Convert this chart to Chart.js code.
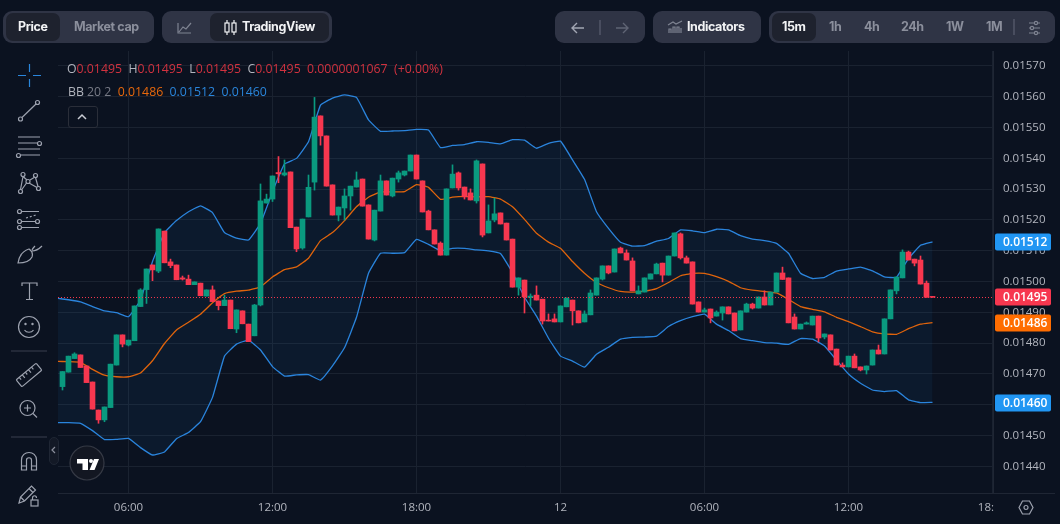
<!DOCTYPE html>
<html>
<head>
<meta charset="utf-8">
<title>Price chart</title>
<script src="https://cdn.jsdelivr.net/npm/chart.js@4"></script>
<style>
  html, body { margin: 0; padding: 0; background: #0b1220; width: 1060px; height: 524px; overflow: hidden; }
  canvas { position: absolute; left: 0; top: 0; }
  .box { position: absolute; top: 11px; height: 32px; background: #2f3445; border-radius: 9px; }
  .on { position: absolute; top: 13px; height: 28px; background: #1e222e; border-radius: 7px; }
  .tab { position: absolute; top: 11px; font: 700 12.5px/32px Inter, sans-serif; color: #8b8f9c; white-space: nowrap; letter-spacing: -0.4px; }
  .tab.w { color: #f2f3f5; }
  #legend { position: absolute; left: 67px; top: 60px; font: 12.3px/18px "Open Sans", sans-serif; color: #d1323f; white-space: pre; }
  #bb { position: absolute; left: 68px; top: 83px; font: 12.3px/18px "Open Sans", sans-serif; white-space: pre; }
  .g { color: #b2b5be; }
  #collapse { position: absolute; left: 68px; top: 106px; width: 28px; height: 20px; border: 1px solid #2a2e39; border-radius: 3px; }
  #corner { position: absolute; left: 994px; top: 494px; width: 66px; height: 30px; background: #0b1220; }
  #axisEnd { position: absolute; left: 993px; top: 493px; width: 62px; height: 1px; background: #1f2634; }
  #handle { position: absolute; left: 49px; top: 437px; width: 8px; height: 26px; border: 1px solid #1f2634; border-radius: 5px; background: #131926; }
  svg { position: absolute; left: 0; top: 0; }
</style>
</head>
<body>
<canvas id="chart" width="1060" height="524"></canvas>

<div class="box" style="left:3px;width:151px"></div>
<div class="on" style="left:6px;width:54px"></div>
<div class="tab w" style="left:18px">Price</div>
<div class="tab" style="left:74px">Market cap</div>
<div class="box" style="left:162px;width:170px"></div>
<div class="on" style="left:210px;width:119px"></div>
<div class="tab w" style="left:242px">TradingView</div>
<div class="box" style="left:555px;width:90px"></div>
<div class="box" style="left:653px;width:108px"></div>
<div class="tab w" style="left:687px">Indicators</div>
<div class="box" style="left:769px;width:286px"></div>
<div class="on" style="left:772px;width:44px"></div>
<div class="tab w" style="left:782px">15m</div>
<div class="tab" style="left:829px">1h</div>
<div class="tab" style="left:864px">4h</div>
<div class="tab" style="left:901px">24h</div>
<div class="tab" style="left:946px">1W</div>
<div class="tab" style="left:986px">1M</div>

<div id="legend"><span class="g">O</span>0.01495  <span class="g">H</span>0.01495  <span class="g">L</span>0.01495  <span class="g">C</span>0.01495  0.0000001067  (+0.00%)</div>
<div id="bb"><span class="g">BB</span> <span style="color:#787b86">20 2</span>  <span style="color:#e8680c">0.01486</span>  <span style="color:#2a86dc">0.01512</span>  <span style="color:#2a86dc">0.01460</span></div>
<div id="collapse"></div>
<div id="corner"></div>
<div id="axisEnd"></div>
<div id="handle"></div>

<svg width="1060" height="524" fill="none" stroke="#9da2af" stroke-width="1.2">
  <!-- top bar icons -->
  <path d="M178 23v10h13M179 32l4-5 3 2 5-6" stroke="#7f8492"/>
  <g stroke="#f2f3f5"><rect x="225" y="23" width="4" height="9"/><path d="M227 20v3M227 32v3"/><rect x="232" y="23" width="4" height="9"/><path d="M234 20v3M234 32v3"/></g>
  <path d="M584 28h-12m5-5l-5 5 5 5" stroke="#a2a6b3" stroke-width="1.4"/>
  <path d="M600 20v15" stroke="#555a6b" stroke-width="1.4"/>
  <path d="M616 28h12m-5-5l5 5-5 5" stroke="#5f6474" stroke-width="1.4"/>
  <path d="M669 33v-4h2v4M673 33v-6h2v6M677 33v-6h2v6M681 33v-5M668 25l5-3 3 2 6-3" stroke="#7f8492"/>
  <path d="M1014 19v16" stroke="#555a6b" stroke-width="1.4"/>
  <g stroke="#7f8492"><path d="M1029 23h11M1029 28h11M1029 33h11"/><circle cx="1036" cy="23" r="1.6" fill="#2f3445"/><circle cx="1032" cy="28" r="1.6" fill="#2f3445"/><circle cx="1036" cy="33" r="1.6" fill="#2f3445"/></g>
  <!-- collapse chevron -->
  <path d="M78 119l4-4 4 4" stroke="#c9ccd4" stroke-width="1.5"/>
  <!-- drawing toolbar -->
  <path d="M18 75.500h8M33 75.500h8M29.500 64v8M29.500 79v8" stroke="#2a86dc"/>
  <circle cx="20.500" cy="119" r="2"/><circle cx="37.500" cy="102.500" r="2"/><path d="M22 117.500l14-13.500"/>
  <path d="M18 137h22M18 143h19M18 149h22M21 155h19"/><circle cx="39.500" cy="143.500" r="2"/><circle cx="18.500" cy="155.500" r="2"/>
  <circle cx="23" cy="174.500" r="2"/><circle cx="35.500" cy="175.500" r="2"/><circle cx="20.500" cy="191.500" r="2"/><circle cx="38.500" cy="188.500" r="2"/><circle cx="28" cy="181.500" r="2"/>
  <path d="M23 176.500l4 3.500M30 180l5-3M29 183l8 4.500M26.500 183l-5 7M23 176.500l-2.500 13M35.500 177.500l2.500 9"/>
  <path d="M22 211.500h17M22 221.500h13M22 227.500h17"/><path d="M26 218l10-3" stroke-dasharray="2 2"/><circle cx="19.500" cy="211.500" r="2"/><circle cx="19.500" cy="221.500" r="2"/><circle cx="37.500" cy="221.500" r="2"/><circle cx="19.500" cy="227.500" r="2"/>
  <path d="M18 263c1-7 5-12 11-14 3 2 4 5 3 8-2 4-7 6-14 6zM32 250c1-2 2-3 3-4M32 251c3 0 6-1 10-5"/>
  <path d="M22 286v-3h15v3M29.500 283v16.500M26 299.500h7"/>
  <circle cx="29" cy="327" r="10.500"/><circle cx="25.500" cy="324" r="0.6"/><circle cx="32.500" cy="324" r="0.6"/><path d="M24.500 330c2 3 7 3 9 0"/>
  <path d="M11 351h36M11 437h36" stroke="#3a3f4e"/>
  <g transform="rotate(-40 29 375)"><rect x="16" y="370.500" width="26" height="9" rx="1"/><path d="M20 370.500v3M24 370.500v4M28 370.500v3M32 370.500v4M36 370.500v3"/></g>
  <circle cx="27.500" cy="408" r="7.500"/><path d="M33 413.500l4 4M24 408h7M27.500 404.500v7"/>
  <path d="M21.500 470v-10c0-10 15-10 15 0v10h-5v-10c0-3-5-3-5 0v10zM21.500 466h5M31.500 466h5"/>
  <path d="M19 503l1.500-6 11-11 4 4-11 11zM29 488.500l4 4M20.500 497l4 4"/><rect x="31" y="500" width="7" height="6"/><path d="M32.500 500v-2c0-3 4-3 4 0"/>
  <!-- logo -->
  <circle cx="87" cy="463" r="17" fill="#131722" stroke="#363a45"/>
  <path d="M77 459h11v11h-5.500v-6.500h-5.500zM94 459h5l-4.500 11h-5z" fill="#fff" stroke="none"/>
  <circle cx="91" cy="461" r="2" fill="#fff" stroke="none"/>
  <!-- handle chevron, settings -->
  <path d="M55 447l-3 3 3 3" stroke="#8b8f9c"/>
  <path d="M1019 507.500l3.500-6.500h7l3.500 6.500-3.500 6.500h-7z"/><circle cx="1026" cy="507.500" r="2"/>
</svg>

<script>
// ——— DATA ———
const opens = [
  0.014659, 0.014706, 0.014750, 0.014762, 0.014726, 0.014674, 0.014583, 0.014551, 0.014591, 0.014729,
  0.014827, 0.014794, 0.014808, 0.014919, 0.014974, 0.015054, 0.015034, 0.015164, 0.015064, 0.015054,
  0.015012, 0.015008, 0.014990, 0.014995, 0.014953, 0.014973, 0.014937, 0.014922, 0.014940, 0.014846,
  0.014905, 0.014862, 0.014824, 0.014924, 0.015255, 0.015268, 0.015354, 0.015346, 0.015356, 0.015177,
  0.015109, 0.015210, 0.015323, 0.015538, 0.015473, 0.015314, 0.015216, 0.015239, 0.015278, 0.015307,
  0.015333, 0.015249, 0.015135, 0.015229, 0.015327, 0.015278, 0.015333, 0.015346, 0.015359, 0.015411,
  0.015327, 0.015229, 0.015168, 0.015125, 0.015086, 0.015304, 0.015353, 0.015307, 0.015288, 0.015262,
  0.015382, 0.015158, 0.015200, 0.015223, 0.015190, 0.015138, 0.014982, 0.015005, 0.014948, 0.014956,
  0.014943, 0.014875, 0.014879, 0.014869, 0.014918, 0.014940, 0.014905, 0.014869, 0.014892, 0.014956,
  0.015008, 0.015051, 0.015031, 0.015109, 0.015093, 0.015067, 0.014960, 0.014966, 0.015008, 0.015025,
  0.015060, 0.015021, 0.015083, 0.015155, 0.015077, 0.015064, 0.014934, 0.014901, 0.014911, 0.014888,
  0.014898, 0.014918, 0.014898, 0.014843, 0.014901, 0.014927, 0.014914, 0.014950, 0.014924, 0.014966,
  0.015028, 0.015012, 0.014885, 0.014846, 0.014862, 0.014859, 0.014888, 0.014820, 0.014827, 0.014781,
  0.014729, 0.014723, 0.014758, 0.014723, 0.014713, 0.014729, 0.014778, 0.014765, 0.014879, 0.014970,
  0.015012, 0.015096, 0.015073, 0.015070, 0.014995, 0.014952
];
const closes = [
  0.014708, 0.014758, 0.014765, 0.014721, 0.014672, 0.014586, 0.014551, 0.014593, 0.014732, 0.014827,
  0.014797, 0.014810, 0.014921, 0.014973, 0.015041, 0.015038, 0.015171, 0.015061, 0.015052, 0.015006,
  0.015008, 0.014990, 0.014999, 0.014954, 0.014973, 0.014935, 0.014922, 0.014940, 0.014847, 0.014908,
  0.014863, 0.014805, 0.014924, 0.015262, 0.015268, 0.015343, 0.015350, 0.015353, 0.015175, 0.015106,
  0.015203, 0.015306, 0.015534, 0.015473, 0.015310, 0.015216, 0.015242, 0.015278, 0.015310, 0.015330,
  0.015245, 0.015138, 0.015232, 0.015327, 0.015281, 0.015336, 0.015353, 0.015359, 0.015411, 0.015333,
  0.015226, 0.015168, 0.015122, 0.015086, 0.015301, 0.015349, 0.015304, 0.015275, 0.015265, 0.015392,
  0.015151, 0.015197, 0.015220, 0.015187, 0.015135, 0.014982, 0.015012, 0.014950, 0.014953, 0.014940,
  0.014872, 0.014872, 0.014869, 0.014921, 0.014947, 0.014905, 0.014866, 0.014895, 0.014963, 0.015012,
  0.015051, 0.015028, 0.015106, 0.015093, 0.015070, 0.014970, 0.014970, 0.015012, 0.015025, 0.015057,
  0.015021, 0.015083, 0.015158, 0.015077, 0.015060, 0.014927, 0.014901, 0.014908, 0.014882, 0.014901,
  0.014918, 0.014895, 0.014840, 0.014905, 0.014927, 0.014914, 0.014950, 0.014924, 0.014966, 0.015028,
  0.015007, 0.014866, 0.014846, 0.014862, 0.014866, 0.014888, 0.014817, 0.014830, 0.014778, 0.014729,
  0.014723, 0.014758, 0.014720, 0.014713, 0.014726, 0.014778, 0.014765, 0.014879, 0.014973, 0.015015,
  0.015096, 0.015070, 0.015060, 0.014992, 0.014949, 0.014949
];
const highs = [
  0.014708, 0.014758, 0.014769, 0.014762, 0.014726, 0.014674, 0.014583, 0.014593, 0.014732, 0.014827,
  0.014827, 0.014810, 0.014921, 0.014977, 0.015041, 0.015054, 0.015171, 0.015164, 0.015073, 0.015054,
  0.015018, 0.015021, 0.014999, 0.014995, 0.014973, 0.014986, 0.014937, 0.014956, 0.014940, 0.014908,
  0.014905, 0.014862, 0.014926, 0.015317, 0.015284, 0.015343, 0.015406, 0.015395, 0.015356, 0.015177,
  0.015203, 0.015346, 0.015598, 0.015538, 0.015473, 0.015314, 0.015242, 0.015301, 0.015310, 0.015356,
  0.015333, 0.015249, 0.015232, 0.015346, 0.015327, 0.015336, 0.015359, 0.015359, 0.015411, 0.015411,
  0.015327, 0.015232, 0.015168, 0.015129, 0.015301, 0.015379, 0.015356, 0.015307, 0.015301, 0.015395,
  0.015382, 0.015249, 0.015271, 0.015223, 0.015190, 0.015138, 0.015012, 0.015005, 0.014960, 0.014986,
  0.014943, 0.014895, 0.014895, 0.014921, 0.014947, 0.014940, 0.014905, 0.014905, 0.014973, 0.015012,
  0.015051, 0.015051, 0.015106, 0.015112, 0.015103, 0.015077, 0.014986, 0.015012, 0.015025, 0.015060,
  0.015060, 0.015083, 0.015158, 0.015158, 0.015083, 0.015064, 0.014934, 0.014914, 0.014911, 0.014905,
  0.014918, 0.014918, 0.014898, 0.014905, 0.014930, 0.014930, 0.014950, 0.014970, 0.014966, 0.015028,
  0.015047, 0.015012, 0.014895, 0.014862, 0.014869, 0.014888, 0.014888, 0.014830, 0.014827, 0.014781,
  0.014736, 0.014758, 0.014765, 0.014723, 0.014726, 0.014778, 0.014794, 0.014879, 0.014973, 0.015015,
  0.015103, 0.015099, 0.015073, 0.015083, 0.015002, 0.014952
];
const lows = [
  0.014648, 0.014706, 0.014750, 0.014721, 0.014672, 0.014586, 0.014540, 0.014545, 0.014591, 0.014729,
  0.014788, 0.014791, 0.014808, 0.014919, 0.014929, 0.015003, 0.015029, 0.015061, 0.015045, 0.015006,
  0.015005, 0.014990, 0.014990, 0.014954, 0.014953, 0.014935, 0.014908, 0.014922, 0.014847, 0.014834,
  0.014863, 0.014805, 0.014824, 0.014921, 0.015255, 0.015260, 0.015321, 0.015343, 0.015175, 0.015097,
  0.015105, 0.015210, 0.015297, 0.015443, 0.015310, 0.015216, 0.015197, 0.015200, 0.015232, 0.015307,
  0.015245, 0.015138, 0.015132, 0.015229, 0.015281, 0.015275, 0.015323, 0.015343, 0.015359, 0.015333,
  0.015226, 0.015168, 0.015122, 0.015086, 0.015086, 0.015304, 0.015297, 0.015268, 0.015265, 0.015255,
  0.015145, 0.015158, 0.015194, 0.015187, 0.015135, 0.014982, 0.014956, 0.014898, 0.014921, 0.014940,
  0.014862, 0.014872, 0.014869, 0.014869, 0.014918, 0.014859, 0.014866, 0.014869, 0.014892, 0.014956,
  0.015005, 0.015025, 0.015031, 0.015093, 0.015070, 0.014970, 0.014960, 0.014966, 0.015008, 0.015025,
  0.014999, 0.015021, 0.015083, 0.015073, 0.015060, 0.014927, 0.014901, 0.014901, 0.014866, 0.014888,
  0.014875, 0.014895, 0.014840, 0.014843, 0.014901, 0.014911, 0.014914, 0.014924, 0.014924, 0.014966,
  0.015007, 0.014866, 0.014846, 0.014846, 0.014862, 0.014859, 0.014804, 0.014814, 0.014778, 0.014729,
  0.014723, 0.014723, 0.014720, 0.014710, 0.014700, 0.014729, 0.014765, 0.014765, 0.014879, 0.014960,
  0.015012, 0.015070, 0.015051, 0.014992, 0.014949, 0.014949
];

// Bollinger bands, read at every second candle starting just left of the first one
const bbStart = -1, bbStep = 2;
const bbUpper = [
  0.014946, 0.014941, 0.014934, 0.014919, 0.014905, 0.014899, 0.014886, 0.014940, 0.015065, 0.015159,
  0.015198, 0.015227, 0.015246, 0.015224, 0.015159, 0.015141, 0.015135, 0.015189, 0.015292, 0.015382, 0.015400,
  0.015454, 0.015573, 0.015596, 0.015606, 0.015598, 0.015525, 0.015488, 0.015489, 0.015490, 0.015494,
  0.015492, 0.015435, 0.015442, 0.015445, 0.015454, 0.015452, 0.015447, 0.015461, 0.015459, 0.015433, 0.015449,
  0.015456, 0.015395, 0.015332, 0.015227, 0.015173, 0.015128, 0.015115, 0.015117, 0.015131, 0.015140,
  0.015168, 0.015165, 0.015159, 0.015170, 0.015168, 0.015149, 0.015138, 0.015133,
  0.015124, 0.015092, 0.015027, 0.015010, 0.015014, 0.015034, 0.015041, 0.015047, 0.015035, 0.015015,
  0.015014, 0.015075, 0.015118, 0.015129
];
const bbMiddle = [
  0.014741, 0.014740, 0.014738, 0.014715, 0.014696, 0.014691, 0.014691, 0.014703, 0.014743, 0.014799,
  0.014843, 0.014868, 0.014894, 0.014931, 0.014961, 0.014969, 0.014972, 0.014983, 0.015015, 0.015039, 0.015048,
  0.015076, 0.015133, 0.015159, 0.015198, 0.015243, 0.015274, 0.015291, 0.015291, 0.015292, 0.015315,
  0.015306, 0.015267, 0.015274, 0.015277, 0.015275, 0.015276, 0.015268, 0.015243, 0.015202, 0.015157, 0.015128,
  0.015108, 0.015065, 0.015027, 0.014997, 0.014980, 0.014968, 0.014966, 0.014969, 0.014977, 0.014997,
  0.015019, 0.015027, 0.015027, 0.015016, 0.015001, 0.014980, 0.014972, 0.014968,
  0.014963, 0.014942, 0.014919, 0.014910, 0.014902, 0.014884, 0.014870, 0.014854, 0.014837, 0.014830,
  0.014829, 0.014847, 0.014862, 0.014867
];
const bbLower = [
  0.014542, 0.014542, 0.014540, 0.014516, 0.014487, 0.014488, 0.014491, 0.014461, 0.014437, 0.014447,
  0.014490, 0.014510, 0.014545, 0.014624, 0.014758, 0.014797, 0.014810, 0.014778, 0.014724, 0.014693, 0.014697,
  0.014698, 0.014680, 0.014726, 0.014785, 0.014884, 0.015027, 0.015092, 0.015092, 0.015094, 0.015137,
  0.015121, 0.015100, 0.015108, 0.015108, 0.015103, 0.015100, 0.015091, 0.015029, 0.014949, 0.014888, 0.014816,
  0.014758, 0.014742, 0.014722, 0.014764, 0.014787, 0.014813, 0.014819, 0.014820, 0.014823, 0.014854,
  0.014873, 0.014886, 0.014894, 0.014862, 0.014841, 0.014815, 0.014808, 0.014802,
  0.014800, 0.014796, 0.014815, 0.014813, 0.014791, 0.014745, 0.014700, 0.014670, 0.014648, 0.014643,
  0.014646, 0.014616, 0.014607, 0.014608
];

const lastPrice = 0.0149483;

// ticks and price tags
const yTicks = [0.0144, 0.0145, 0.0146, 0.0147, 0.0148, 0.0149, 0.0150, 0.0151, 0.0152, 0.0153, 0.0154, 0.0155, 0.0156, 0.0157];
const xTickIndex = [11, 35, 59, 83, 107, 131, 155];
const xTickLabels = ['06:00', '12:00', '18:00', '12', '06:00', '12:00', '18:00'];
const tagValues = [0.015129, 0.01495, 0.014867, 0.014605];
const tagTexts = ['0.01512', '0.01495', '0.01486', '0.01460'];
const tagColors = ['#2196f3', '#f7374f', '#ff6d00', '#2196f3'];

// ——— STYLE ———
const GREEN = '#0a9a7f', RED = '#f7374f', BLUE = '#2b84dc', ORANGE = '#e0640c';
const GRID = '#1a2230', AXIS = '#1f2634', BAND = 'rgba(33,150,243,0.065)';
const TICK_FONT = { family: "'Open Sans', sans-serif", size: 11.5 };

const candleColor = c => closes[c.dataIndex] >= opens[c.dataIndex] ? GREEN : RED;
const bbPoints = arr => arr.map((v, i) => ({ x: bbStart + i * bbStep, y: v }));

// price tags on the axis, placed through the y scale
const priceTags = {
  id: 'priceTags',
  afterDraw(chart) {
    const { ctx, scales: { y } } = chart;
    ctx.save();
    ctx.textBaseline = 'middle';
    ctx.textAlign = 'left';
    ctx.font = "600 12px 'Open Sans', sans-serif";
    tagValues.forEach((v, i) => {
      const py = Math.round(y.getPixelForValue(v));
      ctx.fillStyle = tagColors[i];
      ctx.beginPath();
      ctx.roundRect(995, py - 8.5, 56, 17, 2);
      ctx.fill();
      ctx.fillStyle = '#fff';
      ctx.fillText(tagTexts[i], 1003, py + 0.5);
    });
    ctx.restore();
  }
};

new Chart(document.getElementById('chart'), {
  type: 'bar',
  data: {
    datasets: [
      {
        type: 'line', data: [{ x: -0.75, y: lastPrice }, { x: 155.083, y: lastPrice }],
        borderColor: RED, borderWidth: 1, borderDash: [1, 2], pointRadius: 0, order: 0
      },
      {
        data: opens.map((o, i) => ({ x: i, y: [o, closes[i]] })),
        backgroundColor: candleColor, barThickness: 5, grouped: false, borderWidth: 0, order: 1
      },
      {
        data: highs.map((h, i) => ({ x: i, y: [lows[i], h] })),
        backgroundColor: candleColor, barThickness: 1, grouped: false, borderWidth: 0, order: 2
      },
      {
        type: 'line', data: bbPoints(bbMiddle), borderColor: ORANGE, borderWidth: 1.3,
        pointRadius: 0, tension: 0.1, order: 3
      },
      {
        type: 'line', data: bbPoints(bbUpper), borderColor: BLUE, borderWidth: 1.3, pointRadius: 0,
        tension: 0.1, order: 4, fill: { target: '+1', above: BAND, below: BAND }
      },
      {
        type: 'line', data: bbPoints(bbLower), borderColor: BLUE, borderWidth: 1.3,
        pointRadius: 0, tension: 0.1, order: 5
      }
    ]
  },
  options: {
    responsive: false,
    animation: false,
    events: [],
    layout: { padding: { left: 58, top: 51, right: 0, bottom: 0 } },
    plugins: { legend: { display: false }, tooltip: { enabled: false } },
    scales: {
      x: {
        type: 'linear', offset: false, min: -0.75, max: 155.083,
        afterFit(s) { s.height = 31; },
        afterBuildTicks(s) { s.ticks = xTickIndex.map(v => ({ value: v })); },
        grid: { color: GRID, drawTicks: false, offset: false },
        border: { color: AXIS },
        ticks: {
          autoSkip: false, maxRotation: 0, padding: 8, color: '#b2b5be', font: TICK_FONT,
          callback: v => xTickLabels[xTickIndex.indexOf(v)]
        }
      },
      y: {
        position: 'right', min: 0.0143136, max: 0.0157487,
        afterFit(s) { s.width = 67; },
        afterBuildTicks(s) { s.ticks = yTicks.map(v => ({ value: v })); },
        grid: { color: GRID, drawTicks: false },
        border: { color: AXIS },
        ticks: {
          autoSkip: false, padding: 10, color: '#b2b5be', font: TICK_FONT,
          callback: v => v.toFixed(5)
        }
      }
    }
  },
  plugins: [priceTags]
});
</script>
</body>
</html>
